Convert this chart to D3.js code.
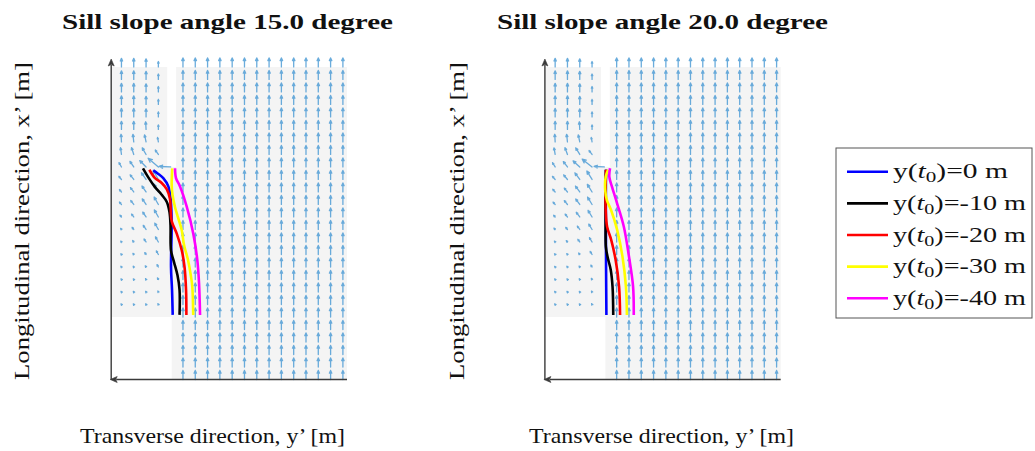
<!DOCTYPE html>
<html>
<head>
<meta charset="utf-8">
<script src="https://cdn.jsdelivr.net/npm/d3@7"></script>
<style>
  body { margin: 0; background: #fff; }
  svg { display: block; }
  text { font-family: "Liberation Serif", "DejaVu Serif", serif; fill: #111; }
</style>
</head>
<body>
<svg id="fig" width="1035" height="451"></svg>
<script>
// ---------------- data ----------------
const panelTitles = ["Sill slope angle 15.0 degree", "Sill slope angle 20.0 degree"];
const xLabel = "Transverse direction, y\u2019 [m]";
const yLabel = "Longitudinal direction, x\u2019 [m]";

// release positions y(t0) [m] and track colours
const releaseOffsets = [0, -10, -20, -30, -40];
const trackColors = ["#0000ff", "#000000", "#ff0000", "#ffff00", "#ff00ff"];

// velocity grid nodes [m]
const gridTransverse = [75, 57, 39, 21, 3, -15, -33, -51, -69, -87, -105, -123, -141, -159, -177, -195, -213, -231, -249];
const gridLongitudinal = [0, 18, 36, 54, 72, 90, 108, 126, 144, 162, 180, 198, 216, 234, 252, 270, 288, 306, 324, 342, 360, 378, 396, 414, 432, 450];

// channel (deep side) speed per column, columns y' = -15 ... -249, flow along +x'
const channelSpeed = [1, 1, 1, 1, 1, 1, 1, 1, 1, 1, 1, 1, 1, 1];

// sill-top field, rows x' = 108 ... 450, columns y' = 75, 57, 39, 21
const sillSpeed15 = [
  [0.08, 0.08, 0.08, 0.10], [0.08, 0.08, 0.08, 0.12], [0.08, 0.08, 0.10, 0.20], [0.10, 0.10, 0.15, 0.30],
  [0.10, 0.15, 0.25, 0.45], [0.12, 0.20, 0.40, 0.65], [0.15, 0.30, 0.55, 0.80], [0.25, 0.40, 0.65, 0.90],
  [0.35, 0.55, 0.75, 0.95], [0.35, 0.60, 0.80, 1.00], [0.45, 0.65, 0.90, 1.15], [0.55, 0.75, 1.00, 1.50],
  [0.75, 0.80, 0.85, 0.60], [0.85, 0.85, 0.80, 0.50], [0.90, 0.90, 0.85, 0.50], [0.95, 0.95, 0.90, 0.55],
  [0.95, 0.95, 0.90, 0.55], [0.95, 0.95, 0.90, 0.60], [0.95, 0.95, 0.90, 0.60], [0.95, 0.95, 0.90, 0.60]
];
// flow direction, degrees from +x' towards +y'
const sillAngle15 = [
  [40, 38, 35, 30], [40, 38, 35, 30], [40, 38, 35, 30], [40, 38, 35, 30],
  [40, 38, 35, 30], [40, 38, 35, 30], [40, 38, 35, 30], [40, 38, 35, 30],
  [40, 38, 35, 30], [40, 38, 35, 30], [40, 38, 35, 30], [30, 35, 45, 50],
  [8, 18, 30, 35], [3, 6, 12, 10], [0, 0, 3, 0], [0, 0, 0, 0],
  [0, 0, 0, 0], [0, 0, 0, 0], [0, 0, 0, 0], [0, 0, 0, 0]
];
const sillSpeed20 = [
  [0.08, 0.08, 0.08, 0.10], [0.08, 0.08, 0.08, 0.12], [0.08, 0.08, 0.10, 0.15], [0.08, 0.10, 0.12, 0.25],
  [0.10, 0.12, 0.20, 0.40], [0.12, 0.20, 0.35, 0.55], [0.20, 0.30, 0.45, 0.70], [0.25, 0.40, 0.65, 0.85],
  [0.35, 0.55, 0.75, 0.95], [0.40, 0.55, 0.80, 1.00], [0.45, 0.65, 0.90, 1.10], [0.55, 0.75, 1.00, 1.40],
  [0.75, 0.80, 0.85, 0.55], [0.85, 0.85, 0.80, 0.50], [0.90, 0.90, 0.85, 0.50], [0.95, 0.95, 0.90, 0.55],
  [0.95, 0.95, 0.90, 0.55], [0.95, 0.95, 0.90, 0.60], [0.95, 0.95, 0.90, 0.60], [0.95, 0.95, 0.90, 0.60]
];
const sillAngle20 = [
  [42, 40, 37, 32], [42, 40, 37, 32], [42, 40, 37, 32], [42, 40, 37, 32],
  [42, 40, 37, 32], [42, 40, 37, 32], [42, 40, 37, 32], [42, 40, 37, 32],
  [42, 40, 37, 32], [42, 40, 37, 32], [42, 40, 37, 32], [32, 38, 48, 52],
  [10, 20, 32, 38], [3, 6, 12, 10], [0, 0, 3, 0], [0, 0, 0, 0],
  [0, 0, 0, 0], [0, 0, 0, 0], [0, 0, 0, 0], [0, 0, 0, 0]
];
// crest node (y' = 3, x' = 306): [u towards +y', v along +x']
const crestFlow15 = [1.30, 0.05];
const crestFlow20 = [1.15, 0.05];

// wetted domain outline [y', x']
const wetArea = [[90, 90], [90, 450], [8, 450], [8, 306], [-5, 306], [-5, 450], [-255, 450], [-255, 0], [1.5, 0], [1.5, 90]];

// particle tracks [y', x'] for 15 degree sill
const track15_0   = [[0, 93], [1.0, 129], [2.5, 162], [1.5, 225], [2.9, 258], [6.4, 278], [13.8, 290], [21.1, 296], [28.4, 301]];
const track15_m10 = [[-10, 93], [-10, 129], [-7, 150], [-1.9, 169], [2.5, 186], [3.2, 222], [4.7, 241], [8.8, 256], [16.1, 266], [25.9, 277], [35.7, 291], [43.5, 304]];
const track15_m20 = [[-20, 93], [-19.5, 129], [-17.3, 162], [-13.2, 186], [-5.9, 210], [1.5, 228], [2.9, 244], [4, 260], [8.8, 274], [16.1, 283], [25.9, 290], [34.2, 302]];
const track15_m30 = [[-30, 93], [-28.7, 133], [-26.8, 148], [-22.4, 172], [-16.5, 194], [-13.2, 215], [-6.3, 238], [-3.4, 248], [0.3, 266], [1.5, 280], [0.7, 304]];
const track15_m40 = [[-40, 93], [-38.5, 139], [-36, 172], [-30.1, 210], [-20.5, 249], [-10.7, 278], [-4.8, 290], [-3.4, 304]];
// particle tracks for 20 degree sill
const track20_0   = [[0, 93], [0.5, 160], [0.8, 230], [0.8, 280], [0.6, 302]];
const track20_m10 = [[-10, 93], [-9, 133], [-6.3, 158], [-1.8, 176], [0.8, 191], [1.2, 222], [1.2, 273], [0.6, 302]];
const track20_m20 = [[-20, 93], [-18.5, 134], [-13.5, 172], [-7, 201], [-1, 220], [1, 244], [1.3, 273], [0.6, 302]];
const track20_m30 = [[-30, 93], [-28.5, 134], [-23.5, 177], [-15.8, 215], [-6.8, 244], [-0.8, 258], [1.8, 273], [1, 292], [-2.5, 302]];
const track20_m40 = [[-40, 93], [-39, 134], [-33, 177], [-25.5, 220], [-15.5, 254], [-8, 278], [-4.2, 292], [-5.3, 304]];

// ---------------- drawing ----------------
const svg = d3.select("#fig");
const xScale = d3.scaleLinear().domain([90, -255]).range([111.2, 347]);
const yScale = d3.scaleLinear().domain([0, 460]).range([379.5, 60]);
const quiverScale = 13;          // m of arrow per unit speed
const panelShift = [0, 433.7];

const panels = [
  { speed: sillSpeed15, angle: sillAngle15, crest: crestFlow15,
    tracks: [track15_0, track15_m10, track15_m20, track15_m30, track15_m40] },
  { speed: sillSpeed20, angle: sillAngle20, crest: crestFlow20,
    tracks: [track20_0, track20_m10, track20_m20, track20_m30, track20_m40] }
];

function arrowPath(x0, y0, x1, y1) {
  const dx = x1 - x0, dy = y1 - y0, len = Math.hypot(dx, dy);
  if (len < 0.05) return `M${x0},${y0}h0.1`;
  const ux = dx / len, uy = dy / len;
  const h = Math.max(len * 0.33, 1.5), a = 24 * Math.PI / 180;
  const c = Math.cos(a), s = Math.sin(a);
  const b1x = x1 - h * (ux * c - uy * s), b1y = y1 - h * (uy * c + ux * s);
  const b2x = x1 - h * (ux * c + uy * s), b2y = y1 - h * (uy * c - ux * s);
  return `M${x0},${y0}L${x1},${y1}M${b1x},${b1y}L${x1},${y1}L${b2x},${b2y}`;
}

panels.forEach((p, pi) => {
  const g = svg.append("g").attr("transform", `translate(${panelShift[pi]},0)`);

  // wetted area
  g.append("path")
    .attr("d", d3.line().x(d => xScale(d[0])).y(d => yScale(d[1]))(wetArea) + "Z")
    .attr("fill", "#f4f4f4");

  // vector list
  const vecs = [];
  for (let c = 5; c < gridTransverse.length; c++) {
    gridLongitudinal.forEach(xl => {
      vecs.push({ y: gridTransverse[c], x: xl, u: 0, v: channelSpeed[c - 5] });
    });
  }
  p.speed.forEach((row, r) => {
    const xl = gridLongitudinal[r + 6];
    row.forEach((sp, c) => {
      const th = p.angle[r][c] * Math.PI / 180;
      vecs.push({ y: gridTransverse[c], x: xl, u: sp * Math.sin(th), v: sp * Math.cos(th) });
    });
  });
  vecs.push({ y: gridTransverse[4], x: gridLongitudinal[17], u: p.crest[0], v: p.crest[1] });

  g.append("g").selectAll("path").data(vecs).join("path")
    .attr("d", d => arrowPath(xScale(d.y), yScale(d.x),
                              xScale(d.y + d.u * quiverScale), yScale(d.x + d.v * quiverScale)))
    .attr("fill", "none")
    .attr("stroke", "#4597d3")
    .attr("stroke-width", 1.3)
    .attr("stroke-linecap", "round")
    .attr("stroke-linejoin", "round")
    .attr("stroke-opacity", 0.8);

  // particle tracks
  const line = d3.line().x(d => xScale(d[0])).y(d => yScale(d[1])).curve(d3.curveCatmullRom.alpha(0.5));
  g.append("g").selectAll("path").data(p.tracks).join("path")
    .attr("d", d => line(d))
    .attr("fill", "none")
    .attr("stroke", (d, i) => trackColors[i])
    .attr("stroke-width", 2.6)
    .attr("stroke-linejoin", "round");

  // axes with arrow heads
  const [xr0, xr1] = xScale.range();
  const [yr0, yr1] = yScale.range();
  const ax = g.append("g").attr("stroke", "#3a3a3a").attr("stroke-width", 1.4).attr("fill", "#3a3a3a");
  ax.append("line").attr("x1", xr0).attr("y1", yr0).attr("x2", xr0).attr("y2", yr1 + 5);
  ax.append("path").attr("stroke-width", 0.6)
    .attr("d", `M${xr0},${yr1 - 1}L${xr0 - 3},${yr1 + 6}L${xr0},${yr1 + 4.5}L${xr0 + 3},${yr1 + 6}Z`);
  ax.append("line").attr("x1", xr1).attr("y1", yr0).attr("x2", xr0 + 5).attr("y2", yr0);
  ax.append("path").attr("stroke-width", 0.6)
    .attr("d", `M${xr0 - 1},${yr0}L${xr0 + 6},${yr0 - 3}L${xr0 + 4.5},${yr0}L${xr0 + 6},${yr0 + 3}Z`);
});

// titles and axis labels
const titleX = [227.5, 662.5];
const xLabelX = [212.5, 661.5];
const yLabelX = [22, 457];
panelTitles.forEach((t, i) => {
  svg.append("text").attr("x", titleX[i]).attr("y", 29)
    .attr("text-anchor", "middle").attr("font-size", 22).attr("font-weight", "bold")
    .attr("textLength", 331).attr("lengthAdjust", "spacingAndGlyphs").text(t);
  svg.append("text").attr("x", xLabelX[i]).attr("y", 443)
    .attr("text-anchor", "middle").attr("font-size", 21)
    .attr("textLength", 265).attr("lengthAdjust", "spacingAndGlyphs").text(xLabel);
  svg.append("text").attr("transform", `translate(${yLabelX[i]},221) rotate(-90)`)
    .attr("dy", "0.35em")
    .attr("text-anchor", "middle").attr("font-size", 21)
    .attr("textLength", 318).attr("lengthAdjust", "spacingAndGlyphs").text(yLabel);
});

// legend
const lg = svg.append("g");
lg.append("rect").attr("x", 836).attr("y", 148).attr("width", 196).attr("height", 170)
  .attr("fill", "#fff").attr("stroke", "#555").attr("stroke-width", 1);
releaseOffsets.forEach((v, i) => {
  const ry = 171.7 + i * 31.65;
  lg.append("line").attr("x1", 847).attr("x2", 888).attr("y1", ry).attr("y2", ry)
    .attr("stroke", trackColors[i]).attr("stroke-width", 2.6);
  const t = lg.append("text").attr("x", 893).attr("y", ry + 6.5).attr("font-size", 21)
    .attr("textLength", v === 0 ? 115 : 133).attr("lengthAdjust", "spacingAndGlyphs");
  t.append("tspan").text("y(");
  t.append("tspan").attr("font-style", "italic").text("t");
  t.append("tspan").attr("font-size", 15).attr("dy", 4).text("0");
  t.append("tspan").attr("dy", -4).text(`)=${v} m`);
});
</script>
</body>
</html>
